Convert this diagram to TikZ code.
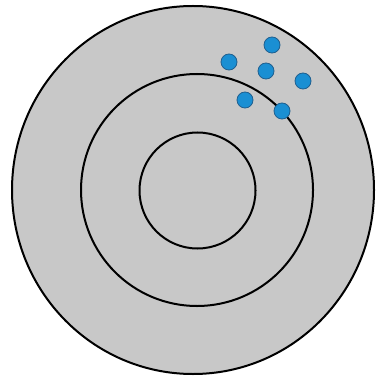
\documentclass[tikz,border=0pt]{standalone}
\begin{document}
\begin{tikzpicture}[x=1pt,y=-1pt,
  ring/.style={draw=black,line width=2pt},
  shot/.style={circle,fill=dotblue,draw=dotedge,line width=0.8pt,minimum size=16pt,inner sep=0pt}]
\definecolor{dotblue}{HTML}{1A8FD3}
\definecolor{dotedge}{HTML}{1F5F8F}
\definecolor{disc}{HTML}{C8C8C8}
\useasboundingbox (0,0) rectangle (375,379);
\fill[white] (0,0) rectangle (375,379);
\draw[ring,fill=disc] (193,190) ellipse (181 and 184);
\draw[ring] (197,190) circle (116);
\draw[ring] (197.5,190.5) circle (58);
\node[shot] (d1) at (272,45) {};
\node[shot] (d2) at (229,62) {};
\node[shot] (d3) at (266,71) {};
\node[shot] (d4) at (303,81) {};
\node[shot] (d5) at (245,100) {};
\node[shot] (d6) at (282,111) {};
\end{tikzpicture}
\end{document}
